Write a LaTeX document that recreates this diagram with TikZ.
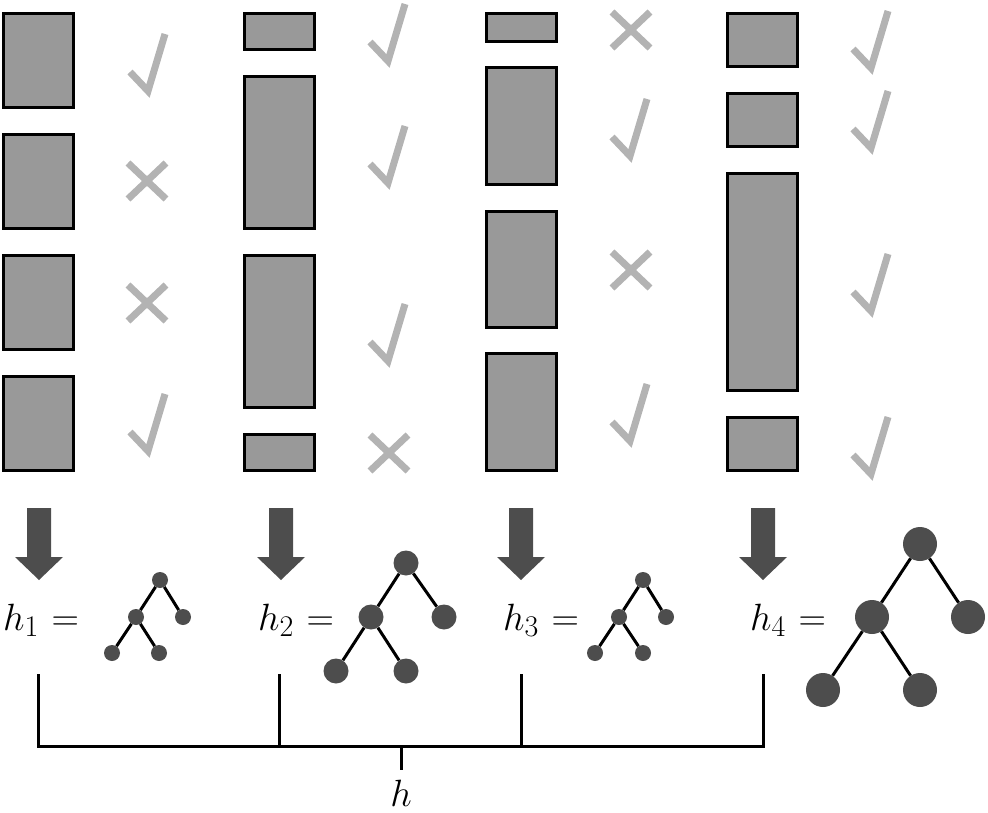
\RequirePackage{fix-cm}
\documentclass[tikz,border=0pt]{standalone}
\definecolor{blkfill}{HTML}{999999}
\definecolor{markgray}{HTML}{B3B3B3}
\definecolor{dark}{HTML}{4D4D4D}
\tikzset{
  blk/.style={draw=black, line width=3pt, fill=blkfill},
  markline/.style={draw=markgray, line width=7pt},
  chk/.pic={\draw[markline, line join=miter] (-18,-19) -- (0,0) -- (17,-57);},
  crs/.pic={\draw[markline] (-19,-18) -- (19,18) (-19,18) -- (19,-18);},
  barrow/.style={fill=dark},
  lab/.style={inner sep=0pt, anchor=base west, font=\fontsize{38}{42}\selectfont},
  tn/.style={circle, fill=dark, inner sep=0pt, minimum size=#1},
  tedge/.style={draw=black, line width=3pt},
  brk/.style={draw=black, line width=3pt}
}
\newcommand{\hsub}[1]{$h_{\hbox{\fontsize{30}{30}\selectfont #1}}\mkern6mu{=}$}
\begin{document}
\begin{tikzpicture}[x=1pt,y=-1pt]
\useasboundingbox (0,0) rectangle (988,813);
% column 1
\draw[blk] (3.5,13.5) rectangle (73.5,107.5);
\draw[blk] (3.5,134.5) rectangle (73.5,228.5);
\draw[blk] (3.5,255.5) rectangle (73.5,349.5);
\draw[blk] (3.5,376.5) rectangle (73.5,470.5);
% column 2
\draw[blk] (244.5,13.5) rectangle (314.5,49.5);
\draw[blk] (244.5,76.5) rectangle (314.5,228.5);
\draw[blk] (244.5,255.5) rectangle (314.5,407.5);
\draw[blk] (244.5,434.5) rectangle (314.5,470.5);
% column 3
\draw[blk] (486.5,13.5) rectangle (556.5,41.5);
\draw[blk] (486.5,67.5) rectangle (556.5,184.5);
\draw[blk] (486.5,211.5) rectangle (556.5,327.5);
\draw[blk] (486.5,353.5) rectangle (556.5,470.5);
% column 4
\draw[blk] (727.5,13.5) rectangle (797.5,66.5);
\draw[blk] (727.5,93.5) rectangle (797.5,146.5);
\draw[blk] (727.5,173.5) rectangle (797.5,390.5);
\draw[blk] (727.5,417.5) rectangle (797.5,470.5);
% marks
\pic at (148,91) {chk};
\pic at (147,181) {crs};
\pic at (147,303) {crs};
\pic at (148,451) {chk};
\pic at (388,61) {chk};
\pic at (388,183) {chk};
\pic at (388,361) {chk};
\pic at (389,453) {crs};
\pic at (631,30) {crs};
\pic at (630,156) {chk};
\pic at (631,270) {crs};
\pic at (630,441) {chk};
\pic at (871,68) {chk};
\pic at (871,148) {chk};
\pic at (871,311) {chk};
\pic at (871,474) {chk};
% block arrows
\foreach \cx in {39,281,521,763}{
  \fill[barrow] (\cx-12,508) -- (\cx+12,508) -- (\cx+12,557) -- (\cx+24,557) -- (\cx,580) -- (\cx-24,557) -- (\cx-12,557) -- cycle;
}
% labels
\node[lab] (h1) at (3,630) {\hsub{1}};
\node[lab] (h2) at (258,630) {\hsub{2}};
\node[lab] (h3) at (503,630) {\hsub{3}};
\node[lab] (h4) at (750,630) {\hsub{4}};
% tree 1
\node[tn=16pt] (a1) at (160,580) {};
\node[tn=16pt] (b1) at (136,617) {};
\node[tn=16pt] (c1) at (183,617) {};
\node[tn=16pt] (d1) at (112,653) {};
\node[tn=16pt] (e1) at (159,653) {};
\draw[tedge] (a1) -- (b1) (a1) -- (c1) (b1) -- (d1) (b1) -- (e1);
% tree 2
\node[tn=25pt] (a2) at (406,563) {};
\node[tn=25pt] (b2) at (371,617) {};
\node[tn=25pt] (c2) at (444,617) {};
\node[tn=25pt] (d2) at (336,671) {};
\node[tn=25pt] (e2) at (406,671) {};
\draw[tedge] (a2) -- (b2) (a2) -- (c2) (b2) -- (d2) (b2) -- (e2);
% tree 3
\node[tn=16pt] (a3) at (643,580) {};
\node[tn=16pt] (b3) at (619,617) {};
\node[tn=16pt] (c3) at (666,617) {};
\node[tn=16pt] (d3) at (595,653) {};
\node[tn=16pt] (e3) at (643,653) {};
\draw[tedge] (a3) -- (b3) (a3) -- (c3) (b3) -- (d3) (b3) -- (e3);
% tree 4
\node[tn=34pt] (a4) at (920,544) {};
\node[tn=34pt] (b4) at (872,617) {};
\node[tn=34pt] (c4) at (968,617) {};
\node[tn=34pt] (d4) at (823,690) {};
\node[tn=34pt] (e4) at (920,690) {};
\draw[tedge] (a4) -- (b4) (a4) -- (c4) (b4) -- (d4) (b4) -- (e4);
% bracket
\coordinate (t1) at (38,674);
\coordinate (t2) at (279,674);
\coordinate (t3) at (521,674);
\coordinate (t4) at (763,674);
\coordinate (m1) at (38,746);
\coordinate (m2) at (279,746);
\coordinate (m3) at (521,746);
\coordinate (m4) at (763,746);
\coordinate (mid) at (401,746);
\coordinate (midb) at (401,770);
\draw[brk] (t1) -- (m1) -- (m4) -- (t4);
\draw[brk] (t2) -- (m2);
\draw[brk] (t3) -- (m3);
\draw[brk] (mid) -- (midb);
\node[inner sep=0pt, anchor=base, font=\fontsize{38}{42}\selectfont] (hh) at (401,806) {$h$};
\end{tikzpicture}
\end{document}
